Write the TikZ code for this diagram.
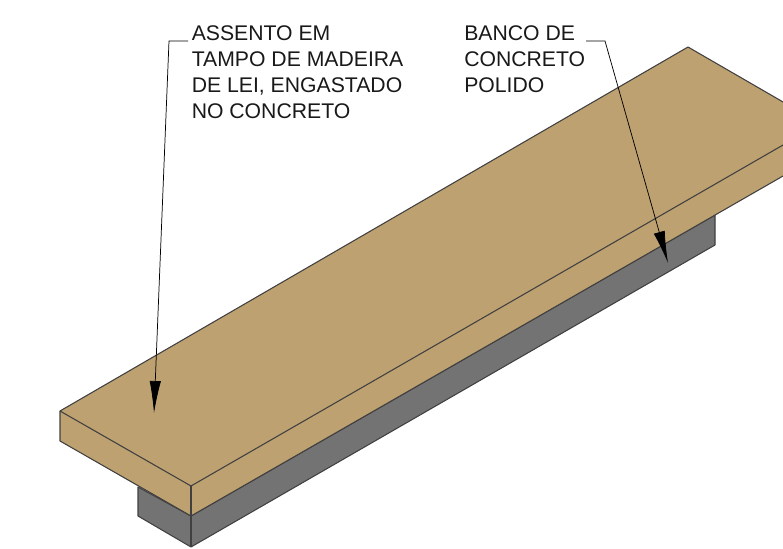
\documentclass[tikz,border=0pt]{standalone}
\usepackage{fontspec}
\setmainfont{Liberation Sans}
\usetikzlibrary{arrows.meta}
\definecolor{madeira}{HTML}{BEA171}
\definecolor{concreto}{HTML}{737373}
\tikzset{
	label text/.style={anchor=north west,inner sep=0pt,align=left,text=black!90,font=\fontsize{15.9}{19.5}\selectfont},
	solid face/.style={draw=black!75,line width=0.8pt,line join=round},
	leader/.style={line width=0.55pt,-{Latex[length=24pt,width=8.5pt]}},
}
\begin{document}
\begin{tikzpicture}[x=0.75pt,y=-0.75pt]
	\useasboundingbox (0,0) rectangle (783,549);
	\begin{scope}
		\clip (0,0) rectangle (783,549);
		% concreto
		\draw[solid face,fill=concreto] (138,487)--(138,516)--(191,547)--(715,245)--(715,215)--(191,516)--cycle;
		\draw[solid face] (191,516)--(191,547);
		% tampo de madeira
		\draw[solid face,fill=madeira] (60,411)--(688,47)--(790,106)--(790,172)--(191,516)--(60,441)--cycle;
		\draw[solid face] (60,411)--(191,486)--(790,141);
		\draw[solid face] (191,486)--(191,516);
	\end{scope}
	\node[label text] (assento) at (191.5,25.5) {ASSENTO EM\\TAMPO DE MADEIRA\\DE LEI, ENGASTADO\\NO CONCRETO};
	\node[label text] (banco) at (464,25.5) {BANCO DE\\CONCRETO\\POLIDO};
	\coordinate (assentoA) at (188,41);
	\coordinate (assentoB) at (169,41);
	\coordinate (assentoT) at (154,413);
	\coordinate (bancoA) at (586,41);
	\coordinate (bancoB) at (605,41);
	\coordinate (bancoT) at (668,263);
	\draw[leader] (assentoA)--(assentoB)--(assentoT);
	\draw[leader] (bancoA)--(bancoB)--(bancoT);
\end{tikzpicture}
\end{document}
